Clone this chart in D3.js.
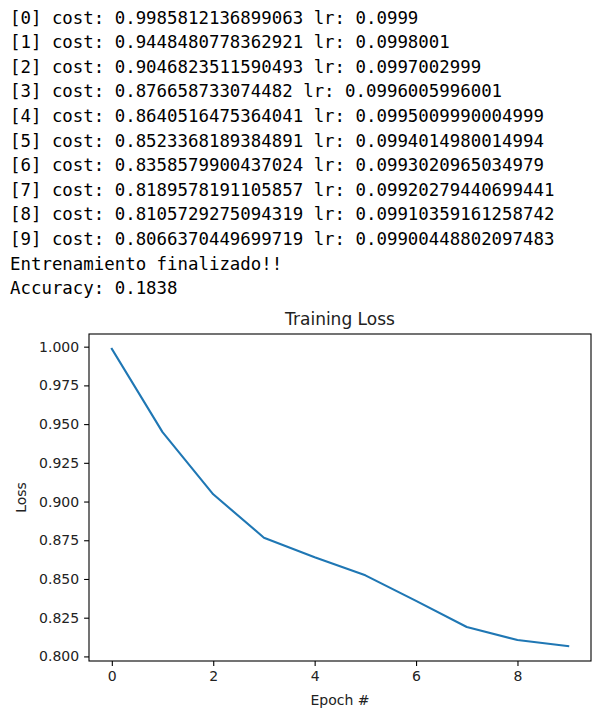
<!DOCTYPE html>
<html>
<head>
<meta charset="utf-8">
<script src="https://cdn.jsdelivr.net/npm/d3@7"></script>
<style>
  body { margin: 0; background: #fff; }
</style>
</head>
<body>
<div id="chart"></div>
<script>
// printed training log (cost per epoch and learning rate)
const epochs = [0, 1, 2, 3, 4, 5, 6, 7, 8, 9];
const costs = [0.9985812136899063, 0.9448480778362921, 0.9046823511590493, 0.876658733074482,
  0.8640516475364041, 0.8523368189384891, 0.8358579900437024, 0.8189578191105857,
  0.8105729275094319, 0.8066370449699719];
const lrs = [0.0999, 0.0998001, 0.0997002999, 0.0996005996001, 0.0995009990004999,
  0.0994014980014994, 0.0993020965034979, 0.09920279440699441, 0.09910359161258742,
  0.09900448802097483];
const footerLines = ["Entrenamiento finalizado!!", "Accuracy: 0.1838"];

const xTicks = [0, 2, 4, 6, 8];
const yTicks = [0.800, 0.825, 0.850, 0.875, 0.900, 0.925, 0.950, 0.975, 1.000];

const W = 614, H = 712;
const box = { left: 89, right: 591, top: 334, bottom: 661 };

const svg = d3.select("#chart")
    .append("svg")
    .attr("width", W)
    .attr("height", H);

// console output
const logLines = epochs.map(i => `[${i}] cost: ${costs[i]} lr: ${lrs[i]}`).concat(footerLines);
svg.append("g")
    .selectAll("text")
    .data(logLines)
    .enter()
    .append("text")
    .attr("x", 10)
    .attr("y", (d, i) => 23.5 + i * 24.6)
    .attr("xml:space", "preserve")
    .style("font-family", "'DejaVu Sans Mono', monospace")
    .style("font-size", "17.4px")
    .style("fill", "#000")
    .text(d => d);

// plot
const ext = d3.extent(costs);
const pad = (ext[1] - ext[0]) * 0.05;
const x = d3.scaleLinear()
    .domain([-0.45, 9.45])
    .range([box.left, box.right]);
const y = d3.scaleLinear()
    .domain([ext[0] - pad, ext[1] + pad])
    .range([box.bottom, box.top]);

const font = "'DejaVu Sans', sans-serif";

// x axis
const gx = svg.append("g")
    .attr("transform", `translate(0,${box.bottom})`)
    .call(d3.axisBottom(x).tickValues(xTicks).tickFormat(d3.format("d")).tickSize(4.9).tickPadding(4.9));
gx.select(".domain").remove();
gx.selectAll("line").attr("stroke", "#000").attr("stroke-width", 1.1);
gx.selectAll("text").style("font-family", font).style("font-size", "14px").style("fill", "#222");

// y axis
const gy = svg.append("g")
    .attr("transform", `translate(${box.left},0)`)
    .call(d3.axisLeft(y).tickValues(yTicks).tickFormat(d3.format(".3f")).tickSize(4.9).tickPadding(4.9));
gy.select(".domain").remove();
gy.selectAll("line").attr("stroke", "#000").attr("stroke-width", 1.1);
gy.selectAll("text").style("font-family", font).style("font-size", "14px").style("fill", "#222");

// loss line
const line = d3.line()
    .x((d, i) => x(epochs[i]))
    .y(d => y(d));
svg.append("path")
    .datum(costs)
    .attr("d", line)
    .attr("fill", "none")
    .attr("stroke", "#1f77b4")
    .attr("stroke-width", 2.1)
    .attr("stroke-linejoin", "round")
    .attr("stroke-linecap", "square");

// frame
svg.append("rect")
    .attr("x", box.left)
    .attr("y", box.top)
    .attr("width", box.right - box.left)
    .attr("height", box.bottom - box.top)
    .attr("fill", "none")
    .attr("stroke", "#000")
    .attr("stroke-width", 1.1);

// title + labels
svg.append("text")
    .attr("x", (box.left + box.right) / 2)
    .attr("y", box.top - 9)
    .attr("text-anchor", "middle")
    .style("font-family", font)
    .style("font-size", "17px")
    .style("fill", "#222")
    .text("Training Loss");

svg.append("text")
    .attr("x", (box.left + box.right) / 2)
    .attr("y", 705)
    .attr("text-anchor", "middle")
    .style("font-family", font)
    .style("font-size", "14px")
    .style("fill", "#222")
    .text("Epoch #");

svg.append("text")
    .attr("transform", `translate(25.5,${(box.top + box.bottom) / 2}) rotate(-90)`)
    .attr("text-anchor", "middle")
    .style("font-family", font)
    .style("font-size", "14px")
    .style("fill", "#222")
    .text("Loss");
</script>
</body>
</html>
